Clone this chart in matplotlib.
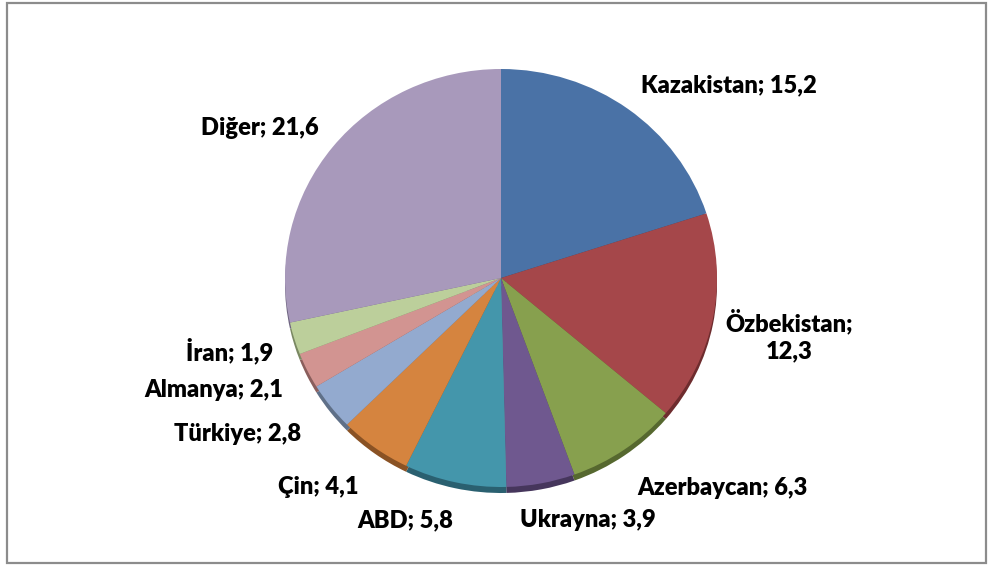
import matplotlib
matplotlib.use("Agg")
import matplotlib.pyplot as plt
from matplotlib.patches import Rectangle

countries = ["Kazakistan", "Özbekistan", "Azerbaycan", "Ukrayna", "ABD",
             "Çin", "Türkiye", "Almanya", "İran", "Diğer"]
values = [15.2, 12.3, 6.3, 3.9, 5.8, 4.1, 2.8, 2.1, 1.9, 21.6]
value_labels = ["15,2", "12,3", "6,3", "3,9", "5,8", "4,1", "2,8", "2,1", "1,9", "21,6"]

colors = ["#4a72a6", "#a5474a", "#87a04e", "#6f588f", "#4496ab",
          "#d5843f", "#93aacf", "#d29491", "#bccf9b", "#a899bb"]
side_colors = ["#2e4a6e", "#6e2c2e", "#56682f", "#46365c", "#2a6070",
               "#8a5224", "#5f7088", "#8a5e5c", "#7a8862", "#6e6480"]

# label anchor positions in pixel coordinates (x, y from top)
label_pos = [(729, 85), (789, 336), (722, 488), (588, 520), (405, 520),
             (318, 487), (238, 434), (214, 390), (230, 351), (260, 128)]

W, H = 993, 566
fig = plt.figure(figsize=(W / 100, H / 100), dpi=100)

# pie axes: y squashed slightly to mimic the tilted 3D look
rx, ry = 216, 209
sy = rx / ry
pax = fig.add_axes([0, 0, 1, 1])
cx, cy = 501, (H - 278) * sy
pax.pie(values, colors=side_colors, startangle=90, counterclock=False,
        center=(cx, cy - 6 * sy), radius=rx, frame=True,
        wedgeprops=dict(linewidth=0))
pax.pie(values, colors=colors, startangle=90, counterclock=False,
        center=(cx, cy), radius=rx, frame=True,
        wedgeprops=dict(linewidth=0))
pax.set_aspect("auto")
pax.set_xlim(0, W)
pax.set_ylim(0, H * sy)
pax.axis("off")

ax = fig.add_axes([0, 0, 1, 1])
ax.set_xlim(0, W)
ax.set_ylim(0, H)
ax.axis("off")

for name, vl, (px, py) in zip(countries, value_labels, label_pos):
    txt = f"{name}; {vl}"
    if name == "Özbekistan":
        txt = f"{name};\n{vl}"
    ax.text(px, H - py, txt, ha="center", va="center", fontsize=17,
            fontweight="heavy", family=["Lato", "DejaVu Sans"],
            color="#000000", linespacing=1.3)

ax.add_patch(Rectangle((7, H - 563), 979, 560, fill=False,
                       edgecolor="#8c8c8c", linewidth=1.6))

fig.savefig("out.png", dpi=100)
